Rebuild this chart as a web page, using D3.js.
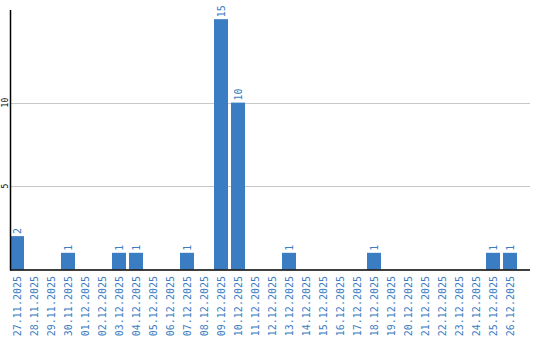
<!DOCTYPE html>
<html>
<head>
<meta charset="utf-8">
<script src="https://cdn.jsdelivr.net/npm/d3@7"></script>
<style>
body { margin: 0; background: #fff; }
svg { display: block; }
</style>
</head>
<body>
<div id="chart"></div>
<script>
// days and counts
var days = ["27.11.2025","28.11.2025","29.11.2025","30.11.2025","01.12.2025","02.12.2025",
	"03.12.2025","04.12.2025","05.12.2025","06.12.2025","07.12.2025","08.12.2025",
	"09.12.2025","10.12.2025","11.12.2025","12.12.2025","13.12.2025","14.12.2025",
	"15.12.2025","16.12.2025","17.12.2025","18.12.2025","19.12.2025","20.12.2025",
	"21.12.2025","22.12.2025","23.12.2025","24.12.2025","25.12.2025","26.12.2025"];
var counts = [2,0,0,1,0,0,1,1,0,0,1,0,15,10,0,0,1,0,0,0,0,1,0,0,0,0,0,0,1,1];
var yTicks = [5, 10];

var W = 540, H = 340;
// margins (avoid the name "top", it's window.top)
var mL = 10, mR = 530, mT = 10, mB = 269.5;
var blue = "#3b7dc3";
var mono = "'DejaVu Sans Mono', monospace";

var svg = d3.select("#chart").append("svg")
	.attr("width", W).attr("height", H);

// 17px per day, 14px bar, first bar flush with the axis
var x = d3.scaleBand().domain(days).range([mL, mL + 17 * days.length - 3])
	.paddingInner(3 / 17).paddingOuter(0);
var y = d3.scaleLinear().domain([0, 15.55]).range([mB, mT]);

// gridlines
svg.selectAll("line.grid").data(yTicks).enter().append("line")
	.attr("x1", mL).attr("x2", mR)
	.attr("y1", function (d) { return Math.round(y(d)) + 0.5 })
	.attr("y2", function (d) { return Math.round(y(d)) + 0.5 })
	.attr("stroke", "#c8c8c8").attr("stroke-width", 1);

// y tick labels, turned on their side
svg.selectAll("text.ytick").data(yTicks).enter().append("text")
	.attr("transform", function (d) { return "translate(8," + y(d) + ") rotate(-90)" })
	.attr("text-anchor", "middle")
	.style("font", "8px " + mono)
	.attr("fill", "#000")
	.text(function (d) { return d });

// bars
var nz = days.map(function (d, i) { return {day: d, v: counts[i]} })
	.filter(function (d) { return d.v > 0 });

svg.selectAll("rect.bar").data(nz).enter().append("rect")
	.attr("x", function (d) { return x(d.day) })
	.attr("width", x.bandwidth())
	.attr("y", function (d) { return y(d.v) })
	.attr("height", function (d) { return mB - y(d.v) })
	.attr("fill", blue);

// value labels
svg.selectAll("text.val").data(nz).enter().append("text")
	.attr("transform", function (d) {
		return "translate(" + (x(d.day) + x.bandwidth() / 2 + 4) + "," + (y(d.v) - 2) + ") rotate(-90)";
	})
	.attr("text-anchor", "start")
	.style("font", "10px " + mono)
	.attr("fill", blue)
	.text(function (d) { return d.v });

// axes lines
svg.append("line").attr("x1", mL + 0.5).attr("x2", mL + 0.5)
	.attr("y1", mT).attr("y2", mB + 1)
	.attr("stroke", "#000").attr("stroke-width", 1.5);
svg.append("line").attr("x1", mL).attr("x2", mR)
	.attr("y1", mB + 0.5).attr("y2", mB + 0.5)
	.attr("stroke", "#000").attr("stroke-width", 1.5);

// day labels
svg.selectAll("text.day").data(days).enter().append("text")
	.attr("transform", function (d) {
		return "translate(" + (x(d) + x.bandwidth() / 2 + 3.5) + ",276) rotate(-90)";
	})
	.attr("text-anchor", "end")
	.style("font", "10px " + mono)
	.attr("fill", blue)
	.text(function (d) { return d });
</script>
</body>
</html>
